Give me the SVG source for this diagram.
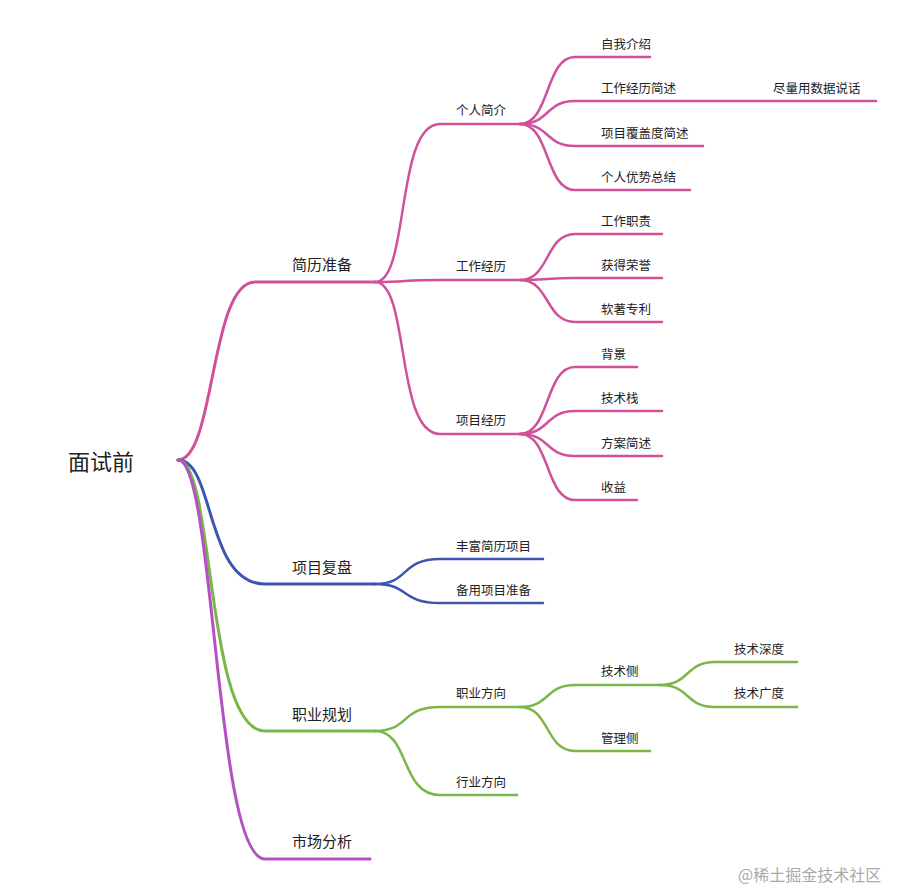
<svg xmlns="http://www.w3.org/2000/svg" width="903" height="892" viewBox="0 0 903 892">
<style>
text{font-family:"Noto Sans CJK SC","Noto Sans",sans-serif;fill:#222}
.t1{font-size:15px}.t2{font-size:12.5px}.r{font-size:22px}
path{fill:none;stroke-linecap:round}
.p{stroke:#d0509a}.b{stroke:#3d55b0}.g{stroke:#7ab648}.m{stroke:#b44fc4}
.w3{stroke-width:3}.w2{stroke-width:2.5}
</style>
<rect width="903" height="892" fill="#fff"/>
<g id="connectors">
<path class="p w3" d="M178 460 C215 460,210 282,255 282 L375 282"/>
<path class="b w3" d="M178 460 C215 460,205 584,265 584 L375 584"/>
<path class="g w3" d="M178 460 C215 460,205 731,265 731 L375 731"/>
<path class="m w3" d="M178 460 C215 460,215 859,265 859 L370 859"/>
<path class="p w2" d="M375 282 C410 282,395 124,440 124 L520 124"/>
<path class="p w2" d="M375 282 C410 282,400 280,440 280 L520 280"/>
<path class="p w2" d="M375 282 C410 282,395 434,440 434 L520 434"/>
<path class="p w2" d="M520 124 C550 124,545 57,575 57 L650 57"/>
<path class="p w2" d="M520 124 C550 124,545 101,575 101 L876 101"/>
<path class="p w2" d="M520 124 C550 124,545 146,575 146 L703 146"/>
<path class="p w2" d="M520 124 C550 124,545 190,575 190 L690 190"/>
<path class="p w2" d="M520 280 C550 280,545 234,575 234 L662 234"/>
<path class="p w2" d="M520 280 C550 280,545 278,575 278 L662 278"/>
<path class="p w2" d="M520 280 C550 280,545 322,575 322 L662 322"/>
<path class="p w2" d="M520 434 C550 434,545 367,575 367 L637 367"/>
<path class="p w2" d="M520 434 C550 434,545 411,575 411 L662 411"/>
<path class="p w2" d="M520 434 C550 434,545 456,575 456 L662 456"/>
<path class="p w2" d="M520 434 C550 434,545 500,575 500 L637 500"/>
<path class="b w2" d="M375 584 C410 584,400 559,440 559 L543 559"/>
<path class="b w2" d="M375 584 C410 584,400 603,440 603 L543 603"/>
<path class="g w2" d="M375 731 C410 731,400 707,440 707 L520 707"/>
<path class="g w2" d="M375 731 C410 731,400 795,440 795 L517 795"/>
<path class="g w2" d="M520 707 C550 707,545 685,575 685 L660 685"/>
<path class="g w2" d="M520 707 C550 707,545 751,575 751 L650 751"/>
<path class="g w2" d="M660 685 C690 685,685 662,715 662 L797 662"/>
<path class="g w2" d="M660 685 C690 685,685 707,715 707 L797 707"/>
</g>
<g id="root"><text class="r" x="68" y="470">面试前</text></g>
<g id="n1"><text class="t1" x="292" y="270">简历准备</text></g>
<g id="n2"><text class="t1" x="292" y="573">项目复盘</text></g>
<g id="n3"><text class="t1" x="292" y="720">职业规划</text></g>
<g id="n4"><text class="t1" x="292" y="847">市场分析</text></g>
<g id="n11"><text class="t2" x="456" y="115">个人简介</text></g>
<g id="n12"><text class="t2" x="456" y="271">工作经历</text></g>
<g id="n13"><text class="t2" x="456" y="425">项目经历</text></g>
<g id="n111"><text class="t2" x="601" y="49">自我介绍</text></g>
<g id="n112"><text class="t2" x="601" y="93">工作经历简述</text></g>
<g id="n1121"><text class="t2" x="773" y="93">尽量用数据说话</text></g>
<g id="n113"><text class="t2" x="601" y="138">项目覆盖度简述</text></g>
<g id="n114"><text class="t2" x="601" y="182">个人优势总结</text></g>
<g id="n121"><text class="t2" x="601" y="226">工作职责</text></g>
<g id="n122"><text class="t2" x="601" y="270">获得荣誉</text></g>
<g id="n123"><text class="t2" x="601" y="314">软著专利</text></g>
<g id="n131"><text class="t2" x="601" y="359">背景</text></g>
<g id="n132"><text class="t2" x="601" y="403">技术栈</text></g>
<g id="n133"><text class="t2" x="601" y="448">方案简述</text></g>
<g id="n134"><text class="t2" x="601" y="492">收益</text></g>
<g id="n21"><text class="t2" x="456" y="551">丰富简历项目</text></g>
<g id="n22"><text class="t2" x="456" y="595">备用项目准备</text></g>
<g id="n31"><text class="t2" x="456" y="698">职业方向</text></g>
<g id="n32"><text class="t2" x="456" y="787">行业方向</text></g>
<g id="n311"><text class="t2" x="601" y="676">技术侧</text></g>
<g id="n312"><text class="t2" x="601" y="743">管理侧</text></g>
<g id="n3111"><text class="t2" x="734" y="654">技术深度</text></g>
<g id="n3112"><text class="t2" x="734" y="698">技术广度</text></g>
<text x="738" y="881" style="font-size:16px;fill:#aaa">@稀土掘金技术社区</text>
</svg>
